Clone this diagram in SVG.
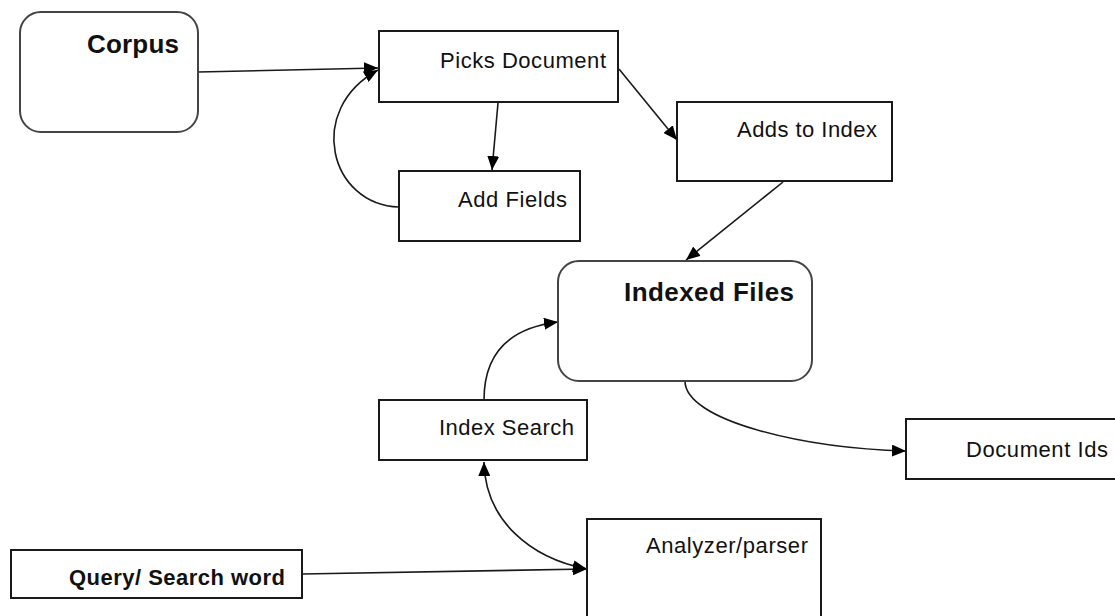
<svg xmlns="http://www.w3.org/2000/svg" width="1115" height="616" viewBox="0 0 1115 616">
  <style>
    .box { fill: #ffffff; stroke: #1a1a1a; stroke-width: 2; }
    .store { fill: #ffffff; stroke: #444444; stroke-width: 2; }
    .lbl { font-family: "Liberation Sans", Arial, sans-serif; font-size: 22px; fill: #111111; text-anchor: end; }
    .bold { font-weight: bold; font-size: 26px; }
    .qry { font-weight: bold; font-size: 22px; }
    .edge { fill: none; stroke: #1a1a1a; stroke-width: 1.6; }
  </style>
  <defs>
    <marker id="arrowL" viewBox="0 0 14 12" refX="14" refY="6" markerWidth="14" markerHeight="12" markerUnits="userSpaceOnUse" orient="auto-start-reverse">
      <path d="M0,0 L14,6 L0,12 Z" fill="#000000"/>
    </marker>
  </defs>

  <!-- connectors -->
  <g id="connectors">
    <path class="edge" d="M198,72 L378,68" marker-end="url(#arrowL)"/>
    <path class="edge" d="M399,207 C330,205 305,110 378,70" marker-end="url(#arrowL)"/>
    <path class="edge" d="M498,103 L492,170" marker-end="url(#arrowL)"/>
    <path class="edge" d="M619,69 L677,140" marker-end="url(#arrowL)"/>
    <path class="edge" d="M783,182 L686,260" marker-end="url(#arrowL)"/>
    <path class="edge" d="M484,400 C484,355 508,328 558,322" marker-end="url(#arrowL)"/>
    <path class="edge" d="M685,381 C685,420 800,448 906,451" marker-end="url(#arrowL)"/>
    <path class="edge" d="M302,574 L587,569" marker-end="url(#arrowL)"/>
    <path class="edge" d="M484,462 C485,520 530,558 587,569" marker-start="url(#arrowL)" marker-end="url(#arrowL)"/>
  </g>

  <!-- nodes -->
  <g id="corpus">
    <rect class="store" x="20" y="12" width="178" height="120" rx="21" ry="21"/>
    <text class="lbl bold" x="179" y="53" textLength="92">Corpus</text>
  </g>
  <g id="picks-document">
    <rect class="box" x="379" y="31" width="239" height="71"/>
    <text class="lbl" x="606" y="68" textLength="166">Picks Document</text>
  </g>
  <g id="add-fields">
    <rect class="box" x="399" y="171" width="181" height="70"/>
    <text class="lbl" x="567" y="207" textLength="109">Add Fields</text>
  </g>
  <g id="adds-to-index">
    <rect class="box" x="677" y="102" width="215" height="79"/>
    <text class="lbl" x="877" y="137" textLength="140">Adds to Index</text>
  </g>
  <g id="indexed-files">
    <rect class="store" x="558" y="261" width="254" height="120" rx="21" ry="21"/>
    <text class="lbl bold" x="794" y="301" textLength="170">Indexed Files</text>
  </g>
  <g id="index-search">
    <rect class="box" x="379" y="400" width="208" height="60"/>
    <text class="lbl" x="574" y="435" textLength="135">Index Search</text>
  </g>
  <g id="document-ids">
    <rect class="box" x="906" y="419" width="220" height="60"/>
    <text class="lbl" x="1108" y="457" textLength="142">Document Ids</text>
  </g>
  <g id="analyzer-parser">
    <rect class="box" x="587" y="519" width="234" height="110"/>
    <text class="lbl" x="808" y="553" textLength="162">Analyzer/parser</text>
  </g>
  <g id="query">
    <rect class="box" x="11" y="550" width="291" height="48"/>
    <text class="lbl qry" x="285" y="585" textLength="216">Query/ Search word</text>
  </g>
</svg>
